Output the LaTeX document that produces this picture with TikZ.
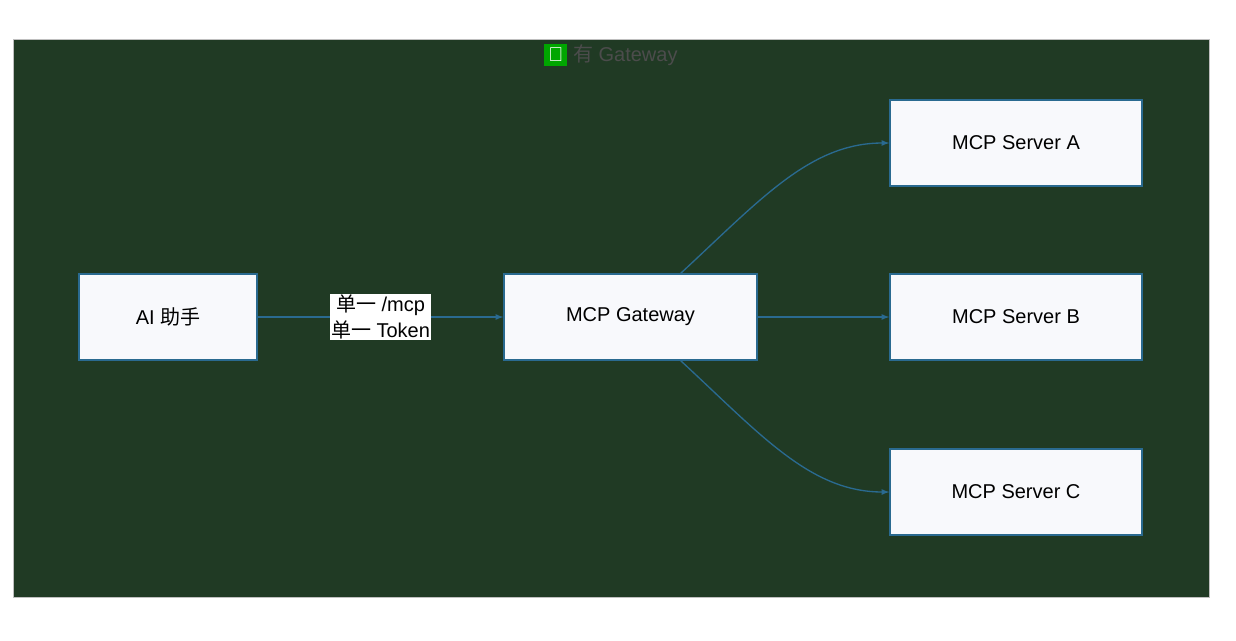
\documentclass[tikz,border=0pt]{standalone}
\usepackage{fontspec}
\setmainfont{Liberation Sans}
\newfontfamily\cjk{Noto Sans CJK SC}
\usetikzlibrary{positioning}
\definecolor{bgframe}{HTML}{203A24}
\definecolor{boxfill}{HTML}{F8F9FC}
\definecolor{boxline}{HTML}{2A6A90}
\definecolor{linkcol}{HTML}{2A6A90}
\tikzset{box/.style={draw=boxline, fill=boxfill, line width=1pt, minimum height=86*0.75pt, font=\fontsize{15}{18}\selectfont},
  link/.style={draw=linkcol, line width=1pt, -latex}}
\begin{document}
\begin{tikzpicture}[x=0.75pt,y=-0.75pt]
\useasboundingbox (0,0) rectangle (1236,640);
\draw[fill=bgframe, draw=gray!50] (13,39) rectangle (1209,597);
%
\node (title) at (611,55) {\fontsize{15}{18}\selectfont\color{black!70}\colorbox{green!65!black}{\color{white}\textbf{\char"2713}}\ {\cjk 有} Gateway};
\node[box, minimum width=178*0.75pt] (ai) at (168,317) {AI {\cjk 助手}};
\node[box, minimum width=253*0.75pt] (gw) at (630.5,317) {MCP Gateway};
\node[box, minimum width=252*0.75pt] (sa) at (1016,143) {MCP Server A};
\node[box, minimum width=252*0.75pt] (sb) at (1016,317) {MCP Server B};
\node[box, minimum width=252*0.75pt] (sc) at (1016,492) {MCP Server C};
%
\draw[link] (ai) -- node[fill=white, inner sep=1pt, align=center, font=\fontsize{15}{19}\selectfont] {{\cjk 单一} /mcp\\{\cjk 单一} Token} (gw);
\draw[link] (gw) -- (sb);
\draw[link] (gw.north east) ++(-77,0) .. controls (760,200) and (810,143) .. (sa.west);
\draw[link] (gw.south east) ++(-77,0) .. controls (760,434) and (810,492) .. (sc.west);
\end{tikzpicture}
\end{document}
